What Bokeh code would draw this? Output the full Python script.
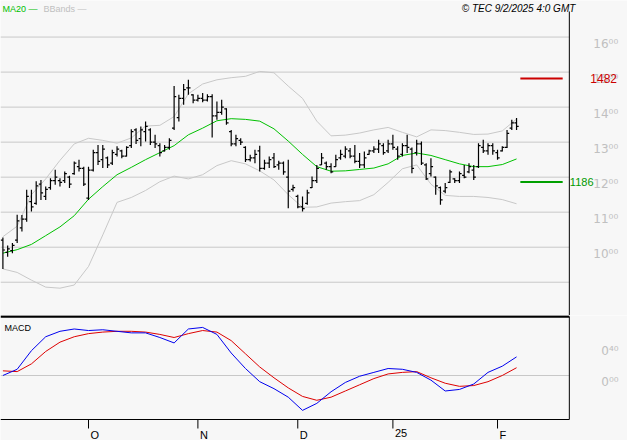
import pandas as pd
from bokeh.plotting import figure
from bokeh.models import Range1d, Label, ColumnDataSource
from bokeh.core.properties import value
from bokeh.layouts import column
from bokeh.embed import file_html
from bokeh.resources import INLINE

# ---------------- data ----------------
holidays = ["2024-12-25", "2024-12-26", "2025-01-01"]
dates = [d for d in pd.bdate_range("2024-09-05", "2025-02-07")
         if d.strftime("%Y-%m-%d") not in holidays]

opens = [10.20, 9.85, 9.90, 10.20, 10.55, 10.80, 11.30, 11.25, 11.80, 11.45,
         11.70, 11.90, 11.90, 11.90, 12.00, 12.10, 12.30, 12.25, 11.40, 12.20,
         12.70, 12.50, 12.55, 12.40, 12.65, 12.75, 12.60, 12.90, 13.35, 13.10,
         13.30, 13.35, 13.00, 12.90, 12.75, 12.85, 13.40, 13.70, 14.25, 14.55,
         14.35, 14.20, 14.25, 14.20, 14.30, 13.75, 13.85, 13.95, 13.30, 12.95,
         13.05, 12.85, 12.50, 12.55, 12.75, 12.25, 12.40, 12.55, 12.35, 12.40,
         12.00, 11.65, 11.45, 11.15, 11.25, 11.70, 11.90, 12.35, 12.40, 12.30,
         12.30, 12.55, 12.60, 12.75, 12.60, 12.45, 12.35, 12.65, 12.75, 12.80,
         12.90, 12.75, 12.95, 12.80, 12.65, 12.90, 12.80, 12.70, 12.95, 12.35,
         12.10, 12.00, 11.70, 11.60, 11.85, 11.95, 11.90, 12.05, 12.15, 12.20,
         12.30, 12.85, 12.75, 12.90, 12.70, 12.75, 12.85, 13.40, 13.55]
highs = [10.28, 10.05, 10.12, 10.93, 10.92, 11.64, 11.64, 11.88, 11.92, 11.73,
         11.97, 12.21, 11.97, 12.16, 12.04, 12.45, 12.50, 12.30, 12.30, 12.78,
         12.92, 12.92, 12.59, 12.78, 12.88, 12.78, 12.88, 13.37, 13.40, 13.45,
         13.59, 13.40, 13.21, 12.97, 12.92, 13.11, 14.60, 14.35, 14.66, 14.78,
         14.37, 14.35, 14.40, 14.37, 14.37, 14.16, 14.21, 13.97, 13.35, 13.21,
         13.11, 12.88, 12.64, 12.78, 12.90, 12.50, 12.59, 12.69, 12.47, 12.45,
         12.50, 11.78, 11.50, 11.45, 11.64, 12.02, 12.35, 12.69, 12.45, 12.40,
         12.64, 12.78, 12.88, 12.83, 12.92, 12.69, 12.73, 12.78, 12.88, 13.07,
         12.97, 13.07, 13.21, 12.88, 12.97, 13.21, 12.85, 13.07, 13.02, 12.40,
         12.54, 12.02, 11.73, 11.83, 12.21, 11.97, 12.16, 12.35, 12.40, 12.35,
         12.97, 13.07, 12.97, 12.97, 12.78, 12.88, 13.35, 13.64, 13.69]
lows = [9.38, 9.73, 9.83, 10.12, 10.45, 10.73, 11.02, 11.21, 11.35, 11.35,
        11.64, 11.78, 11.73, 11.83, 11.69, 12.07, 12.16, 11.75, 11.35, 12.16,
        12.35, 12.26, 12.26, 12.35, 12.59, 12.54, 12.59, 12.83, 12.95, 12.88,
        13.02, 12.92, 12.83, 12.59, 12.73, 12.78, 13.35, 13.59, 14.07, 14.35,
        14.11, 14.16, 14.14, 14.16, 13.13, 13.64, 13.78, 13.50, 12.88, 12.88,
        12.92, 12.43, 12.45, 12.40, 12.16, 12.21, 12.26, 12.26, 12.21, 12.07,
        11.11, 11.59, 11.11, 11.02, 11.21, 11.69, 11.83, 12.35, 12.21, 12.11,
        12.30, 12.50, 12.54, 12.54, 12.40, 12.26, 12.26, 12.64, 12.69, 12.69,
        12.64, 12.69, 12.78, 12.50, 12.59, 12.69, 12.11, 12.62, 12.35, 11.92,
        12.02, 11.50, 11.21, 11.54, 11.83, 11.83, 11.83, 11.97, 12.11, 11.92,
        12.26, 12.69, 12.64, 12.64, 12.50, 12.73, 12.83, 13.35, 13.35]
closes = [9.92, 9.95, 10.05, 10.75, 10.80, 11.45, 11.15, 11.75, 11.55, 11.65,
          11.90, 12.00, 11.85, 12.10, 11.80, 12.40, 12.25, 11.80, 12.20, 12.70,
          12.45, 12.80, 12.35, 12.70, 12.80, 12.60, 12.85, 13.30, 13.05, 13.35,
          13.45, 13.00, 12.95, 12.70, 12.85, 13.05, 14.30, 14.25, 14.50, 14.55,
          14.20, 14.25, 14.20, 14.30, 13.75, 13.85, 14.00, 13.55, 12.95, 13.10,
          13.00, 12.50, 12.55, 12.65, 12.25, 12.40, 12.50, 12.30, 12.40, 12.15,
          11.60, 11.70, 11.15, 11.10, 11.55, 11.90, 12.25, 12.55, 12.30, 12.15,
          12.50, 12.65, 12.80, 12.60, 12.45, 12.35, 12.55, 12.75, 12.80, 12.95,
          12.70, 12.95, 12.85, 12.60, 12.90, 12.85, 12.25, 12.95, 12.40, 11.95,
          12.30, 11.75, 11.35, 11.70, 12.15, 11.90, 12.10, 12.00, 12.30, 12.00,
          12.90, 12.75, 12.90, 12.75, 12.55, 12.85, 13.25, 13.55, 13.45]

# indicator lines, read every 3rd session
ind_step = 3
ma20 = [9.83, 9.93, 10.08, 10.33, 10.58, 10.90, 11.37, 11.73, 12.07, 12.28,
        12.50, 12.70, 12.90, 13.21, 13.40, 13.61, 13.67, 13.65, 13.60, 13.38,
        13.03, 12.65, 12.30, 12.17, 12.18, 12.22, 12.26, 12.38, 12.62, 12.69,
        12.62, 12.50, 12.38, 12.30, 12.30, 12.36, 12.52]
bb_upper = [10.30, 10.60, 11.50, 11.95, 12.48, 12.95, 13.11, 13.05, 12.97, 13.12,
            13.46, 13.48, 13.73, 14.38, 14.66, 14.78, 14.84, 14.88, 15.02, 14.98,
            14.60, 14.25, 13.60, 13.18, 13.20, 13.26, 13.35, 13.42, 13.28, 13.15,
            13.35, 13.33, 13.28, 13.22, 13.23, 13.32, 13.66]
bb_lower = [9.38, 9.28, 9.06, 8.86, 8.83, 8.92, 9.45, 10.35, 11.28, 11.42,
            11.62, 11.87, 12.03, 11.95, 12.07, 12.33, 12.47, 12.38, 12.18, 11.92,
            11.50, 11.14, 11.15, 11.26, 11.30, 11.33, 11.50, 11.85, 12.24, 12.35,
            11.80, 11.48, 11.45, 11.45, 11.42, 11.36, 11.24]
macd = [0.00, 0.08, 0.32, 0.50, 0.57, 0.60, 0.58, 0.59, 0.57, 0.55,
        0.55, 0.49, 0.42, 0.60, 0.62, 0.53, 0.29, 0.09, -0.08, -0.17,
        -0.28, -0.45, -0.36, -0.21, -0.09, -0.01, 0.04, 0.09, 0.08, 0.04,
        -0.06, -0.20, -0.18, -0.11, 0.04, 0.12, 0.24]
signal = [0.06, 0.05, 0.15, 0.31, 0.43, 0.50, 0.54, 0.56, 0.57, 0.57,
          0.56, 0.53, 0.49, 0.54, 0.58, 0.56, 0.45, 0.28, 0.11, -0.03,
          -0.16, -0.27, -0.32, -0.28, -0.20, -0.12, -0.04, 0.02, 0.04, 0.05,
          -0.03, -0.10, -0.14, -0.13, -0.08, 0.00, 0.10]

resistance = 14.82
support = 11.86
resistance_label = "1482"
support_label = "1186"

price_ticks = [10, 11, 12, 13, 14, 15, 16]
price_tick_labels = ["10⁰⁰", "11⁰⁰", "12⁰⁰", "13⁰⁰", "14⁰⁰", "15⁰⁰", "16⁰⁰"]
grid_levels = [9, 10, 11, 12, 13, 14, 15, 16]
macd_ticks = [0.0, 0.4]
macd_tick_labels = ["0⁰⁰", "0⁴⁰"]
month_names = {10: "O", 11: "N", 12: "D", 1: "25", 2: "F"}
title_text = "© TEC 9/2/2025 4:0 GMT"

# ---------------- derived ----------------
n = len(dates)
idx = list(range(n))
ind_x = list(range(0, n, ind_step))
month_ticks = [i for i in range(1, n) if dates[i].month != dates[i - 1].month]
month_labels = [month_names[dates[i].month] for i in month_ticks]

BG = "#f7f7f7"
GRID = "#c8c8c8"
W = 627
PX_PER_BAR = 4.756
X_START = -2.4 / PX_PER_BAR
X_BORDER = 119.1                      # right border of the plotting area
X_END = X_START + W / PX_PER_BAR
TW = 0.45

# price panel (315 px tall, 35 px per unit)
P_LO, P_TOP = 8.05, 16.73
P_HI = P_TOP + 11 / 35.0
# macd panel (125 px tall, 77.5 px per unit)
M_LO, M_HI = -0.568, 0.761
M_TOP = 0.774
M_BOT = M_TOP - 125 / 77.5
TICK_LEN = 9 / 77.5

src = ColumnDataSource(dict(
    x=idx, o=opens, h=highs, l=lows, c=closes,
    xl=[i - TW for i in idx], xr=[i + TW for i in idx]))

xr = Range1d(X_START, X_END)
FONT = value("Liberation Sans")

# ---------------- price panel ----------------
p1 = figure(width=W, height=315, x_range=xr, y_range=Range1d(P_LO, P_HI),
            output_backend="svg", toolbar_location=None,
            x_axis_location=None, y_axis_location=None, min_border=0,
            background_fill_color=BG, border_fill_color=BG,
            outline_line_color=None)
p1.grid.visible = False

p1.segment(x0=X_START, y0=grid_levels, x1=X_BORDER, y1=grid_levels,
           color=GRID, line_width=1)
p1.segment(x0=[X_BORDER], y0=[P_LO], x1=[X_BORDER], y1=[P_TOP],
           color="black", line_width=1)

p1.text(x=X_BORDER, y=price_ticks, text=price_tick_labels, x_offset=24,
        text_baseline="top", text_align="left", text_color="#c0c0c0",
        text_font=value("DejaVu Sans"), text_font_size=value("12px"))

p1.line(ind_x, bb_upper, color="#c8c8c8", line_width=1)
p1.line(ind_x, bb_lower, color="#c8c8c8", line_width=1)
p1.line(ind_x, ma20, color="#00c000", line_width=1)

p1.segment(x0="x", y0="l", x1="x", y1="h", source=src, color="black", line_width=1.2)
p1.segment(x0="xl", y0="o", x1="x", y1="o", source=src, color="black", line_width=1.2)
p1.segment(x0="x", y0="c", x1="xr", y1="c", source=src, color="black", line_width=1.2)

seg_x0 = n - 1 + 0.8
seg_x1 = X_BORDER - 1.4
p1.segment(x0=[seg_x0], y0=[resistance], x1=[seg_x1], y1=[resistance],
           color="#cc0000", line_width=2)
p1.segment(x0=[seg_x0], y0=[support], x1=[seg_x1], y1=[support],
           color="#00a000", line_width=2)

p1.text(x=[X_BORDER], y=[resistance], text=[resistance_label], x_offset=21,
        text_baseline="middle", text_color="#cc0000", text_font=FONT,
        text_font_size=value("12px"))
p1.text(x=[X_BORDER], y=[support], text=[support_label], x_offset=0.5,
        text_baseline="middle", text_color="#009900", text_font=FONT,
        text_font_size=value("11px"))

p1.add_layout(Label(x=X_START, y=P_TOP, x_offset=2, y_offset=3, text="MA20 —",
                    text_color="#00c000", text_font="Liberation Sans",
                    text_font_size="9px", text_baseline="alphabetic"))
p1.add_layout(Label(x=X_START, y=P_TOP, x_offset=43, y_offset=3, text="BBands —",
                    text_color="#c0c0c0", text_font="Liberation Sans",
                    text_font_size="9px", text_baseline="alphabetic"))
p1.add_layout(Label(x=X_BORDER, y=P_TOP, x_offset=6, y_offset=3, text=title_text,
                    text_color="black", text_font="Liberation Sans",
                    text_font_style="italic", text_font_size="10px",
                    text_baseline="alphabetic", text_align="right"))

# ---------------- MACD panel ----------------
p2 = figure(width=W, height=125, x_range=xr, y_range=Range1d(M_BOT, M_TOP),
            output_backend="svg", toolbar_location=None,
            x_axis_location=None, y_axis_location=None, min_border=0,
            background_fill_color=BG, border_fill_color=BG,
            outline_line_color=None)
p2.grid.visible = False

p2.segment(x0=[X_START], y0=[0.0], x1=[X_BORDER], y1=[0.0], color=GRID, line_width=1)
p2.segment(x0=[X_START], y0=[M_HI], x1=[X_BORDER], y1=[M_HI], color="black", line_width=2.5)
p2.segment(x0=[X_START], y0=[M_LO], x1=[X_BORDER], y1=[M_LO], color="black", line_width=1)
p2.segment(x0=[X_BORDER], y0=[M_LO], x1=[X_BORDER], y1=[M_HI], color="black", line_width=1)

p2.text(x=X_BORDER, y=macd_ticks, text=macd_tick_labels, x_offset=32,
        text_baseline="top", text_align="left", text_color="#c0c0c0",
        text_font=value("DejaVu Sans"), text_font_size=value("12px"))

# month ticks and labels
p2.segment(x0=month_ticks, y0=M_LO, x1=month_ticks, y1=M_LO - TICK_LEN,
           color="black", line_width=1)
p2.text(x=month_ticks, y=M_LO, text=month_labels, x_offset=2, y_offset=9,
        text_baseline="top", text_align="left", text_color="black",
        text_font=FONT, text_font_size=value("11px"))

p2.line(ind_x, signal, color="#dd0000", line_width=1)
p2.line(ind_x, macd, color="#0000ee", line_width=1)

p2.add_layout(Label(x=X_START, y=M_HI, x_offset=4, y_offset=-6, text="MACD",
                    text_color="black", text_font="Liberation Sans",
                    text_font_size="9px", text_baseline="top"))

layout = column(p1, p2, spacing=0)
open("out.html", "w").write(file_html(layout, INLINE))
